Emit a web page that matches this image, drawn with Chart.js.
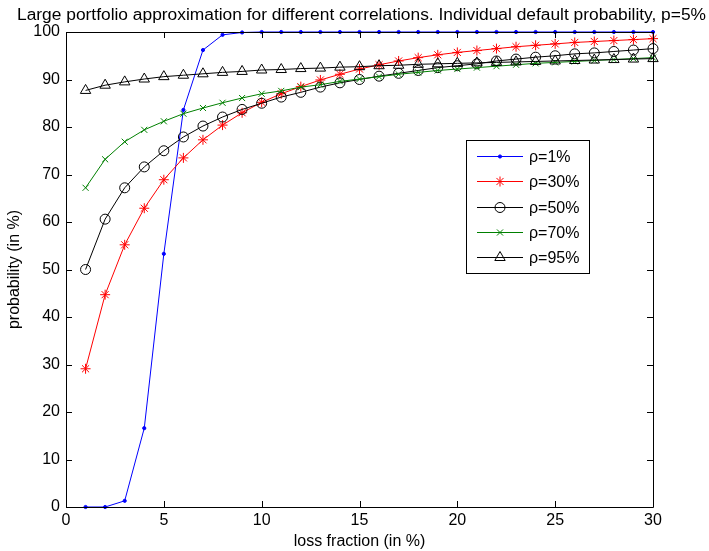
<!DOCTYPE html>
<html>
<head>
<meta charset="utf-8">
<script src="https://cdn.jsdelivr.net/npm/chart.js@4.4.1/dist/chart.umd.min.js"></script>
<style>
html,body{margin:0;padding:0;background:#fff;}
#wrap{width:709px;height:551px;position:relative;}
</style>
</head>
<body>
<div id="wrap"><canvas id="c" width="709" height="551"></canvas></div>
<script>
const titleText = "Large portfolio approximation for different correlations. Individual default probability, p=5%";
const xLabel = "loss fraction (in %)";
const yLabel = "probability (in %)";
const lossFraction = [1,2,3,4,5,6,7,8,9,10,11,12,13,14,15,16,17,18,19,20,21,22,23,24,25,26,27,28,29,30];
const seriesNames = ["ρ=1%","ρ=30%","ρ=50%","ρ=70%","ρ=95%"];
const rho1  = [0,0,1.3,16.6,53.3,83.6,96.2,99.4,99.9,100,100,100,100,100,100,100,100,100,100,100,100,100,100,100,100,100,100,100,100,100];
const rho30 = [29.1,44.7,55.2,62.9,68.9,73.5,77.3,80.4,83.0,85.2,87.0,88.5,89.9,91.1,92.2,93.1,93.9,94.6,95.2,95.7,96.1,96.5,96.9,97.2,97.5,97.8,98.0,98.2,98.4,98.6];
const rho50 = [50.0,60.6,67.2,71.6,75.0,77.9,80.2,82.1,83.7,85.0,86.3,87.3,88.4,89.3,90.0,90.7,91.3,91.9,92.5,92.9,93.3,93.9,94.3,94.7,95.0,95.4,95.6,95.9,96.2,96.5];
const rho70 = [67.2,73.2,76.9,79.4,81.2,82.8,84.0,85.1,86.1,87.0,87.6,88.4,88.9,89.6,90.1,90.6,91.1,91.5,91.9,92.2,92.5,92.8,93.1,93.4,93.6,93.8,94.0,94.2,94.4,94.6];
const rho95 = [87.7,88.8,89.5,90.1,90.6,90.9,91.2,91.5,91.7,92.0,92.1,92.3,92.4,92.6,92.7,92.9,93.0,93.2,93.3,93.4,93.5,93.6,93.7,93.8,93.9,94.0,94.1,94.2,94.3,94.4];
const xTicks = [0,5,10,15,20,25,30];
const yTicks = [0,10,20,30,40,50,60,70,80,90,100];

const FONT = "'Liberation Sans', Arial, sans-serif";
const toXY = arr => arr.map((v,i)=>({x:lossFraction[i], y:v}));

const styles = [
  {color:'rgb(0,0,255)', pointStyle:'circle', radius:1.6, fill:'rgb(0,0,255)', order:5},
  {color:'rgb(255,0,0)', pointStyle:'star', radius:5, fill:'rgba(0,0,0,0)', order:4},
  {color:'rgb(0,0,0)', pointStyle:'circle', radius:5, fill:'rgba(0,0,0,0)', order:3},
  {color:'rgb(0,128,0)', pointStyle:'crossRot', radius:4.3, fill:'rgba(0,0,0,0)', order:2},
  {color:'rgb(0,0,0)', pointStyle:'triangle', radius:6, fill:'rgba(0,0,0,0)', order:1}
];
const allSeries = [rho1, rho30, rho50, rho70, rho95];

const datasets = allSeries.map((s,i)=>({
  label: seriesNames[i],
  data: toXY(s),
  borderColor: styles[i].color,
  backgroundColor: styles[i].fill,
  borderWidth: 1,
  pointStyle: styles[i].pointStyle,
  pointRadius: styles[i].radius,
  pointHoverRadius: styles[i].radius,
  pointBorderColor: styles[i].color,
  pointBackgroundColor: styles[i].fill,
  pointBorderWidth: 1,
  tension: 0,
  fill: false,
  clip: false,
  order: styles[i].order
}));

const framePlugin = {
  id: 'frame',
  afterDatasetsDraw(chart) {
    const {ctx, chartArea:a, scales:{x, y}} = chart;
    ctx.save();
    ctx.strokeStyle = '#000';
    ctx.lineWidth = 1;
    ctx.beginPath();
    ctx.rect(Math.round(a.left)+0.5, Math.round(a.top)+0.5, Math.round(a.right-a.left), Math.round(a.bottom-a.top));
    ctx.stroke();
    const tl = 6;
    ctx.beginPath();
    xTicks.forEach(v=>{
      const px = Math.round(x.getPixelForValue(v))+0.5;
      ctx.moveTo(px, a.bottom); ctx.lineTo(px, a.bottom - tl);
      ctx.moveTo(px, a.top); ctx.lineTo(px, a.top + tl);
    });
    yTicks.forEach(v=>{
      const py = Math.round(y.getPixelForValue(v))+0.5;
      ctx.moveTo(a.left, py); ctx.lineTo(a.left + tl, py);
      ctx.moveTo(a.right, py); ctx.lineTo(a.right - tl, py);
    });
    ctx.stroke();
    ctx.restore();
  },
  afterDraw(chart) {
    const {ctx} = chart;
    ctx.save();
    // title, fitted to the reference width
    ctx.fillStyle = '#000';
    ctx.font = "16px " + FONT;
    ctx.textAlign = 'left';
    ctx.textBaseline = 'alphabetic';
    const w = ctx.measureText(titleText).width;
    const targetW = 689;
    ctx.save();
    ctx.translate(17, 20);
    ctx.scale(targetW / w, 1);
    ctx.fillText(titleText, 0, 0);
    ctx.restore();
    // legend
    const bx = 466.5, by = 140.5, bw = 123, bh = 133;
    ctx.fillStyle = '#fff';
    ctx.fillRect(bx, by, bw, bh);
    ctx.strokeStyle = '#000';
    ctx.lineWidth = 1;
    ctx.strokeRect(bx, by, bw, bh);
    const rowsY = [156, 181, 207, 232, 257];
    ctx.font = "16px " + FONT;
    ctx.textAlign = 'left';
    ctx.textBaseline = 'middle';
    seriesNames.forEach((name,i)=>{
      const yy = rowsY[i] + 0.5;
      ctx.strokeStyle = styles[i].color;
      ctx.lineWidth = 1;
      ctx.beginPath(); ctx.moveTo(477, yy); ctx.lineTo(523, yy); ctx.stroke();
      ctx.fillStyle = styles[i].fill;
      ctx.strokeStyle = styles[i].color;
      Chart.helpers.drawPoint(ctx, {pointStyle: styles[i].pointStyle, radius: styles[i].radius, rotation: 0, borderWidth: 1}, 500, yy);
      ctx.fillStyle = '#000';
      ctx.fillText(name, 529, yy + 1);
    });
    ctx.restore();
  }
};

new Chart(document.getElementById('c'), {
  type: 'line',
  data: { datasets },
  options: {
    responsive: false,
    animation: false,
    devicePixelRatio: 1,
    layout: { padding: { top: 32, right: 56, left: 0, bottom: 0 } },
    plugins: { legend: {display:false}, title: {display:false}, tooltip: {enabled:false} },
    scales: {
      x: {
        type: 'linear', min: 0, max: 30,
        afterBuildTicks: s => { s.ticks = xTicks.map(v=>({value:v})); },
        afterFit: s => { s.height = 44; },
        grid: { display: false, drawTicks: false },
        border: { display: false },
        ticks: { color:'#000', font:{family:FONT, size:16}, padding: 4, maxRotation: 0 },
        title: { display: true, text: xLabel, color:'#000', font:{family:FONT, size:16}, padding:{top:0, bottom:0} }
      },
      y: {
        type: 'linear', min: 0, max: 100,
        afterBuildTicks: s => { s.ticks = yTicks.map(v=>({value:v})); },
        afterFit: s => { s.width = 66; },
        grid: { display: false, drawTicks: false },
        border: { display: false },
        ticks: { color:'#000', font:{family:FONT, size:16}, padding: 6 },
        title: { display: true, text: yLabel, color:'#000', font:{family:FONT, size:16}, padding:{top:5, bottom:0} }
      }
    }
  },
  plugins: [framePlugin]
});
</script>
</body>
</html>
